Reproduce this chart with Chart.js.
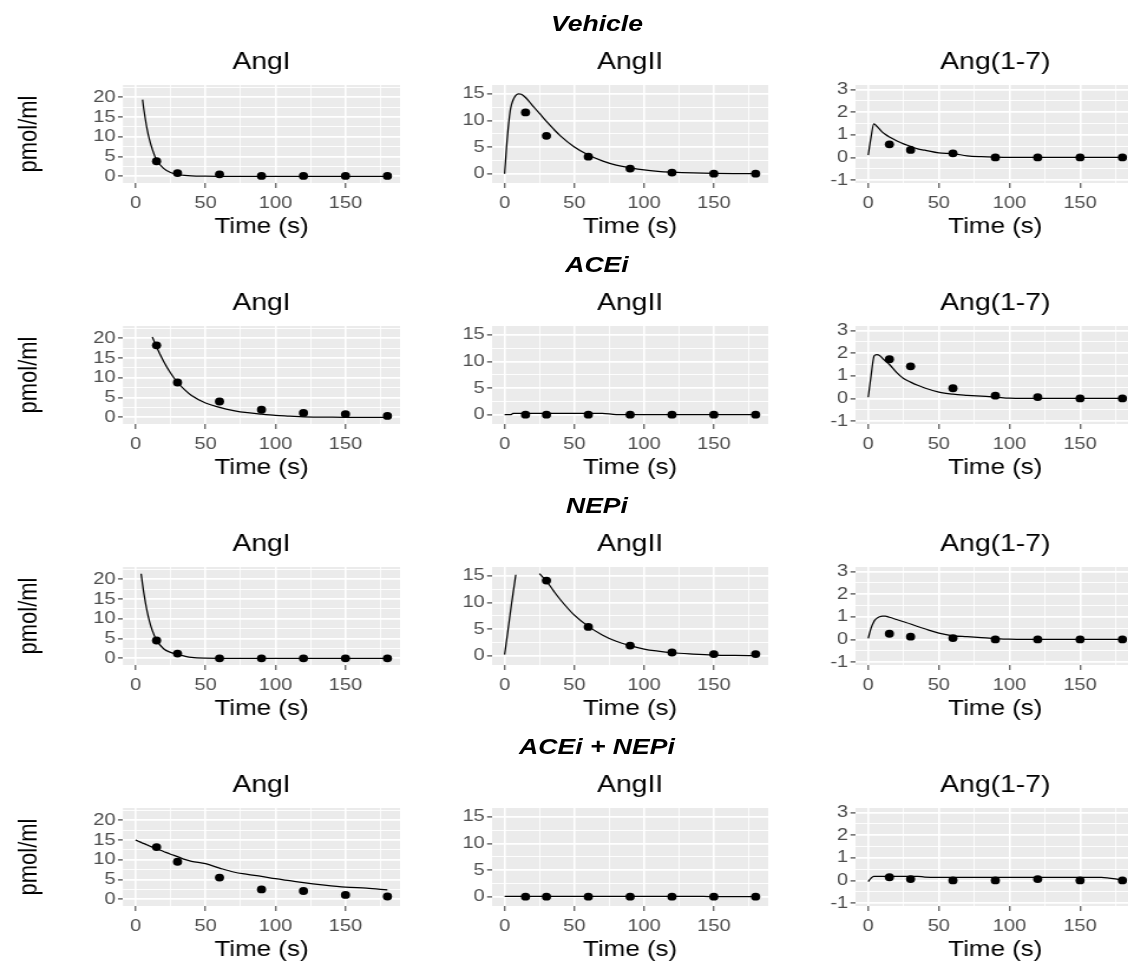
<!DOCTYPE html>
<html>
<head>
<meta charset="utf-8">
<title>Angiotensin peptide kinetics</title>
<script src="https://cdn.jsdelivr.net/npm/chart.js@4.4.1/dist/chart.umd.min.js"></script>
<style>
  html, body { margin: 0; padding: 0; background: #fff; overflow: hidden; }
  body { width: 1128px; height: 962px; position: relative; }
  /* the source figure is stretched horizontally, so the whole grid is scaled on x */
  #figure { position: absolute; left: 0; top: 0; width: 956px; height: 962px; transform: scaleX(1.18); transform-origin: 0 0; }
  #figure canvas { position: absolute; }
  .group-title { position: absolute; width: 300px; height: 28px; line-height: 28px; text-align: center;
    font: italic bold 22.5px 'Liberation Sans', Arial, sans-serif; color: #000; }
</style>
</head>
<body>
<div id="figure"></div>
<script>
// sampling times of the measured points and of the model curve
const sampleTimes = [15, 30, 60, 90, 120, 150, 180];
const modelTimes = [0, 2, 4, 5, 6, 8, 10, 12, 15, 20, 25, 30, 35, 40, 50, 60, 70, 80, 90, 100, 110, 120, 135, 150, 165, 180];

const groups = ['Vehicle', 'ACEi', 'NEPi', 'ACEi + NEPi'];
const peptides = ['AngI', 'AngII', 'Ang(1-7)'];

// tick labels
const timeTicks = [0, 50, 100, 150];
const angITicks = [0, 5, 10, 15, 20];
const angIITicks = [0, 5, 10, 15];
const ang17Ticks = [-1, 0, 1, 2, 3];

// Vehicle
const vehAngIObs = [3.8, 0.8, 0.5, 0.1, 0.1, 0.1, 0.1];
const vehAngIFit = [null, null, null, 19.4, 16.7, 12.4, 9.2, 6.8, 4.1, 2.0, 0.95, 0.45, 0.2, 0.08, 0.02, 0, 0, 0, 0, 0, 0, 0, 0, 0, 0, 0];
const vehAngIIObs = [11.5, 7.1, 3.2, 0.95, 0.2, 0, 0];
const vehAngIIFit = [0, 7.0, 11.8, 13.0, 13.8, 14.7, 15.0, 14.9, 14.3, 12.8, 11.3, 9.8, 8.4, 7.1, 5.0, 3.5, 2.4, 1.6, 1.1, 0.7, 0.45, 0.3, 0.15, 0.06, 0.02, 0];
const vehAng17Obs = [0.58, 0.33, 0.18, 0, 0, 0, 0];
const vehAng17Fit = [0.1, 0.9, 1.48, 1.45, 1.38, 1.25, 1.12, 1.02, 0.9, 0.74, 0.6, 0.49, 0.38, 0.32, 0.2, 0.17, 0.07, 0.03, 0.01, 0, 0, 0, 0, 0, 0, 0];

// ACEi
const aceAngIObs = [18.2, 8.8, 4.0, 1.9, 1.1, 0.8, 0.35];
const aceAngIFit = [null, null, null, null, null, null, null, 20.3, 17.8, 14.2, 11.2, 8.8, 7.0, 5.5, 3.6, 2.5, 1.7, 1.15, 0.8, 0.5, 0.3, 0.1, 0.05, 0, 0, 0];
const aceAngIIObs = [0, 0, 0, 0, 0, 0, 0];
const aceAngIIFit = [0, 0, 0, 0.05, 0.25, 0.25, 0.25, 0.25, 0.25, 0.25, 0.25, 0.25, 0.25, 0.25, 0.25, 0.25, 0.25, 0.03, 0.03, 0.03, 0.03, 0.03, 0.03, 0.03, 0.03, 0.03];
const aceAng17Obs = [1.73, 1.42, 0.45, 0.12, 0.06, 0, 0];
const aceAng17Fit = [0.05, 1.0, 1.85, 1.92, 1.93, 1.9, 1.78, 1.66, 1.5, 1.15, 0.88, 0.72, 0.58, 0.46, 0.28, 0.19, 0.14, 0.1, 0.06, 0.01, 0, 0, 0, 0, 0, 0];

// NEPi
const nepAngIObs = [4.5, 1.2, 0, 0, 0, 0, 0];
const nepAngIFit = [null, null, 21.4, 18.7, 16.3, 12.3, 9.3, 7.0, 4.6, 2.4, 1.5, 1.0, 0.55, 0.2, 0.02, 0, 0, 0, 0, 0, 0, 0, 0, 0, 0, 0];
const nepAngIIObs = [null, 14.1, 5.4, 1.9, 0.6, 0.3, 0.3];
const nepAngIIFit = [0.2, 4.0, 7.9, 9.8, 11.6, 15.2, null, null, null, null, 15.4, 14.0, 12.2, 10.5, 7.6, 5.5, 3.9, 2.7, 1.9, 1.25, 0.85, 0.55, 0.3, 0.12, 0.05, 0.02];
const nepAng17Obs = [0.25, 0.12, 0.06, 0, 0, 0, 0];
const nepAng17Fit = [0.05, 0.5, 0.78, 0.87, 0.93, 1.0, 1.03, 1.03, 0.98, 0.88, 0.78, 0.68, 0.57, 0.47, 0.28, 0.16, 0.12, 0.08, 0.04, 0.01, 0, 0, 0, 0, 0, 0];

// ACEi + NEPi
const comboAngIObs = [13.2, 9.5, 5.5, 2.5, 2.1, 1.1, 0.7];
const comboAngIFit = [15.0, 14.7, 14.4, 14.2, 14.1, 13.8, 13.5, 13.2, 12.8, 12.1, 11.4, 10.8, 10.1, 9.6, 9.0, 7.9, 6.9, 6.3, 5.8, 5.2, 4.7, 4.2, 3.6, 3.1, 2.8, 2.4];
const comboAngIIObs = [0, 0, 0, 0, 0, 0, 0];
const comboAngIIFit = [0.08, 0.08, 0.08, 0.08, 0.08, 0.08, 0.08, 0.08, 0.08, 0.08, 0.08, 0.08, 0.08, 0.08, 0.08, 0.08, 0.08, 0.08, 0.08, 0.08, 0.08, 0.08, 0.08, 0, 0, 0];
const comboAng17Obs = [0.14, 0.06, 0, 0, 0.06, 0, 0];
const comboAng17Fit = [-0.05, 0.1, 0.18, 0.18, 0.18, 0.18, 0.18, 0.18, 0.18, 0.18, 0.18, 0.18, 0.18, 0.15, 0.14, 0.14, 0.14, 0.14, 0.14, 0.14, 0.14, 0.14, 0.14, 0.14, 0.14, 0.02];

const panels = [
  [[vehAngIObs, vehAngIFit], [vehAngIIObs, vehAngIIFit], [vehAng17Obs, vehAng17Fit]],
  [[aceAngIObs, aceAngIFit], [aceAngIIObs, aceAngIIFit], [aceAng17Obs, aceAng17Fit]],
  [[nepAngIObs, nepAngIFit], [nepAngIIObs, nepAngIIFit], [nepAng17Obs, nepAng17Fit]],
  [[comboAngIObs, comboAngIFit], [comboAngIIObs, comboAngIIFit], [comboAng17Obs, comboAng17Fit]]
];

// axis ranges (ggplot expanded limits) per peptide column
const xRange = [-9, 189];
const yRanges = [[-1.7, 23.1], [-1.75, 16.65], [-1.13, 3.2]];
const yTicks = [angITicks, angIITicks, ang17Ticks];

// layout (pre-stretch pixels)
const colLeft = [0, 360.7, 669.4];
const colWidth = [349, 300, 303];
const axisWidth = [104.2, 56, 56];
const rowStep = 241;

Chart.defaults.font.family = "'Liberation Sans', Arial, sans-serif";

// grey panel behind the grid, like theme_grey
const panelBg = {
  id: 'panelBg',
  beforeDraw(chart) {
    const { ctx, chartArea: a } = chart;
    ctx.save();
    ctx.fillStyle = '#EBEBEB';
    ctx.fillRect(a.left, a.top, a.right - a.left, a.bottom - a.top);
    ctx.restore();
  }
};

// major ticks plus the minor lines half way between them
function gridTicks(major, min, max) {
  const step = major[1] - major[0];
  const minor = [major[0] - step / 2].concat(major.map(v => v + step / 2));
  return major.concat(minor).filter(v => v >= min && v <= max).sort((a, b) => a - b);
}

function axisGrid(major, width, tickLength, tickWidth) {
  const isMajor = (c) => c.tick && major.includes(c.tick.value);
  return {
    color: '#FFFFFF',
    lineWidth: (c) => isMajor(c) ? width : width / 2,
    tickColor: (c) => isMajor(c) ? '#333333' : 'rgba(0,0,0,0)',
    tickLength: tickLength,
    tickWidth: tickWidth
  };
}

const fig = document.getElementById('figure');
const xGrid = gridTicks(timeTicks, xRange[0], xRange[1]);

groups.forEach((group, r) => {
  const head = document.createElement('div');
  head.className = 'group-title';
  head.textContent = group;
  head.style.left = (505.9 - 150) + 'px';
  head.style.top = (25 + r * rowStep - 14) + 'px';
  fig.appendChild(head);

  peptides.forEach((pep, c) => {
    const canvas = document.createElement('canvas');
    canvas.width = colWidth[c];
    canvas.height = 203;
    canvas.style.left = colLeft[c] + 'px';
    canvas.style.top = (40 + r * rowStep) + 'px';
    fig.appendChild(canvas);

    const [obs, fit] = panels[r][c];
    const [yMin, yMax] = yRanges[c];
    const major = yTicks[c];
    const yGrid = gridTicks(major, yMin, yMax);

    new Chart(canvas, {
      type: 'scatter',
      data: {
        datasets: [
          {
            data: modelTimes.map((t, i) => ({ x: t, y: fit[i] })),
            showLine: true,
            borderColor: '#000',
            borderWidth: 1.25,
            pointRadius: 0,
            cubicInterpolationMode: 'monotone',
            spanGaps: false,
            order: 2
          },
          {
            data: sampleTimes.map((t, i) => ({ x: t, y: obs[i] })),
            pointRadius: 3.9,
            backgroundColor: '#000',
            borderColor: '#000',
            pointBorderWidth: 0,
            order: 1
          }
        ]
      },
      options: {
        responsive: false,
        animation: false,
        events: [],
        layout: { padding: { top: 0, right: 10, bottom: 0, left: 0 } },
        plugins: {
          legend: { display: false },
          tooltip: { enabled: false },
          title: {
            display: true,
            text: pep,
            color: '#000',
            fullSize: false,
            font: { size: 24, weight: 'normal' },
            padding: { top: 8.2, bottom: 8 }
          }
        },
        scales: {
          x: {
            type: 'linear',
            min: xRange[0],
            max: xRange[1],
            afterBuildTicks: (s) => { s.ticks = xGrid.map(v => ({ value: v })); },
            afterFit: (s) => { s.height = 60; },
            border: { display: false },
            grid: axisGrid(timeTicks, 1.6, 5, 1),
            ticks: {
              autoSkip: false,
              maxRotation: 0,
              padding: 5.3,
              color: '#4D4D4D',
              font: { size: 17 },
              callback: (v) => timeTicks.includes(v) ? String(v) : ''
            },
            title: {
              display: true,
              text: 'Time (s)',
              color: '#000',
              font: { size: 22 },
              padding: { top: 0, bottom: 2.8 }
            }
          },
          y: {
            type: 'linear',
            min: yMin,
            max: yMax,
            afterBuildTicks: (s) => { s.ticks = yGrid.map(v => ({ value: v })); },
            afterFit: (s) => { s.width = axisWidth[c]; },
            border: { display: false },
            grid: axisGrid(major, 1.8, 4.2, 1.1),
            ticks: {
              autoSkip: false,
              padding: 2,
              color: '#4D4D4D',
              font: { size: 17 },
              callback: (v) => major.includes(v) ? String(v) : ''
            },
            title: {
              display: c === 0,
              text: 'pmol/ml',
              color: '#000',
              font: { size: 22 },
              padding: { top: 12.2, bottom: 0 }
            }
          }
        }
      },
      plugins: [panelBg]
    });
  });
});
</script>
</body>
</html>
